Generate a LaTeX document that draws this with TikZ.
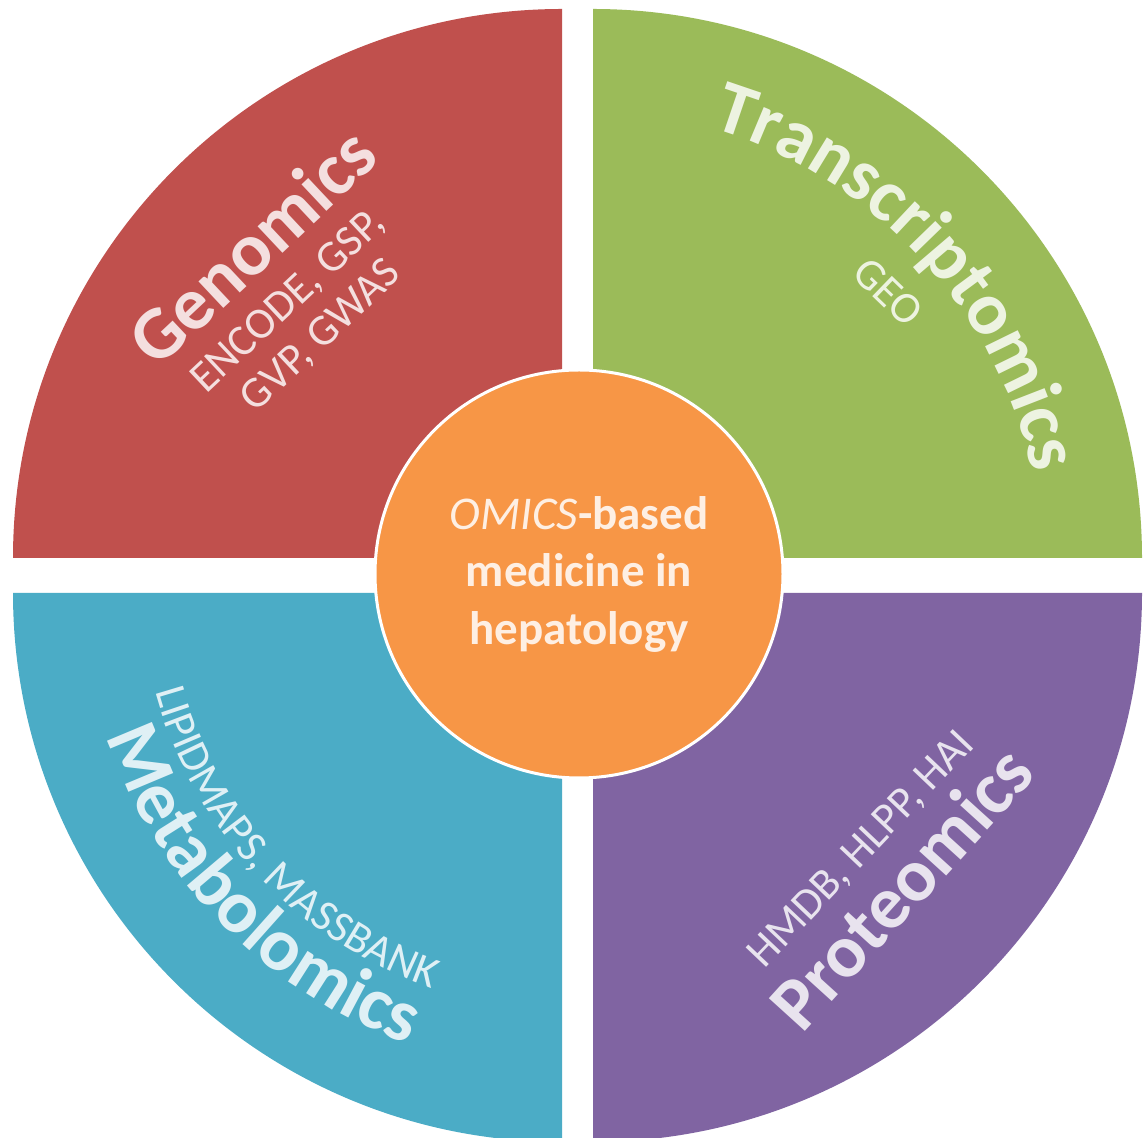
\documentclass[tikz,border=0pt]{standalone}
\usepackage{fontspec}
\setmainfont{Carlito}
\usetikzlibrary{decorations.text,calc}

% quadrant and hub colours
\definecolor{genred}{HTML}{C0504D}
\definecolor{trgreen}{HTML}{9BBB59}
\definecolor{metblue}{HTML}{4BACC6}
\definecolor{propurple}{HTML}{8064A2}
\definecolor{omorange}{HTML}{F79646}
% lettering: white softened by the colour beneath it
\colorlet{gentext}{white!82!genred}
\colorlet{trtext}{white!82!trgreen}
\colorlet{mettext}{white!82!metblue}
\colorlet{protext}{white!82!propurple}
\colorlet{omtext}{white!85!omorange}

\begin{document}
\begin{tikzpicture}[x=1pt,y=1pt,
  title/.style={font=\bfseries\fontsize{75}{80}\selectfont, inner sep=0pt},
  subtitle/.style={font=\fontsize{44}{48}\selectfont, inner sep=0pt, align=center},
  hub/.style={circle, fill=omorange, draw=white, line width=3pt,
    minimum size=408pt, inner sep=0pt, align=center, text=omtext,
    font=\bfseries\fontsize{47}{57.5}\selectfont},
]
\useasboundingbox (0,0) rectangle (1144,1138);
\fill[white] (0,0) rectangle (1144,1138);
\coordinate (ctr) at (579,564);

% four quarter discs separated by a white cross
\begin{scope}
\clip (0,0) rectangle (1144,1138);
\fill[genred] (562,580) -- ++(-549,0) arc[start angle=180,end angle=90,radius=549] -- cycle;
\fill[trgreen] (593,580) -- ++(0,549) arc[start angle=90,end angle=0,radius=549] -- cycle;
\fill[metblue] (562,545) -- ++(0,-549) arc[start angle=270,end angle=180,radius=549] -- cycle;
\fill[propurple] (593,545) -- ++(549,0) arc[start angle=0,end angle=-90,radius=549] -- cycle;
\end{scope}

% Genomics (straight, rising to the right)
\node[title, rotate=43.2, text=gentext] (gen) at (252,892) {Genomics};
\node[subtitle, rotate=43.2, text=gentext] (gensub) at (305,819) {ENCODE, GSP,\\GVP, GWAS};

% Transcriptomics (along an arc, tops outward)
\path[decorate, decoration={text along path, text align=center,
  text={|\bfseries\fontsize{75}{80}\selectfont\color{trtext}|Transcriptomics}}]
  ($(ctr)+(85:465)$) arc[start angle=85,end angle=1,radius=465];
\node[subtitle, rotate=-44, text=trtext] (geo) at (888,846) {GEO};

% Metabolomics (along an arc, tops inward)
\path[decorate, decoration={text along path, text align=center,
  text={|\bfseries\fontsize{75}{80}\selectfont\color{mettext}|Metabolomics}}]
  ($(ctr)+(178:500)$) arc[start angle=178,end angle=271,radius=500];
\path[decorate, decoration={text along path, text align=center,
  text={|\fontsize{44}{48}\selectfont\color{mettext}|LIPIDMAPS, MASSBANK}}]
  ($(ctr)+(170:440)$) arc[start angle=170,end angle=276,radius=440];

% Proteomics (straight, rising to the right)
\node[title, rotate=47.8, text=protext] (prot) at (901,251) {Proteomics};
\node[subtitle, rotate=46.5, text=protext] (protsub) at (862,288) {HMDB, HLPP, HAI};

% central hub
\node[hub] (core) at (ctr) {{\mdseries\itshape OMICS}-based\\medicine in\\hepatology};
\end{tikzpicture}
\end{document}
